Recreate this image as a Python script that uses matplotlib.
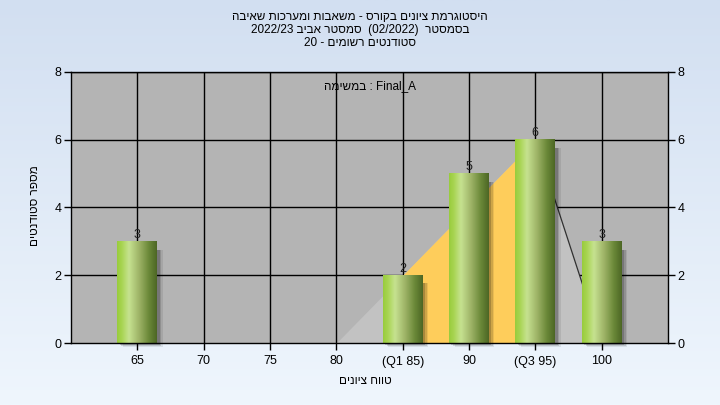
import numpy as np
import matplotlib
matplotlib.use("Agg")
import matplotlib.pyplot as plt
from matplotlib.colors import LinearSegmentedColormap

# ---- data ----
# Hebrew strings are given in logical order; matplotlib has no bidi support,
# so they are converted to visual (left-to-right) order before drawing.
title_1 = "היסטוגרמת ציונים בקורס - משאבות ומערכות שאיבה"
title_2_parts = ["2022/23 ", "סמסטר אביב", "  (02/2022)  ", "בסמסטר"]
title_3_parts = ["20 - ", "סטודנטים רשומים"]
task_parts = ["במשימה", " : Final_A"]
x_label = "טווח ציונים"
y_label = "מספר סטודנטים"
tick_values = [65, 70, 75, 80, 85, 90, 95, 100]
tick_labels = ["65", "70", "75", "80", "(Q1 85)", "90", "(Q3 95)", "100"]
bar_x = [65, 85, 90, 95, 100]
bar_counts = [3, 2, 5, 6, 3]
# distribution triangle (min, Q1, Q3/peak, max)
dist_x = [80, 85, 95, 100]
dist_y = [0, 2, 6, 0]
q1, q3 = 85, 95


def heb(s):
    """reverse a pure-Hebrew run into visual order"""
    return s[::-1]


def is_heb(s):
    return any('\u0590' <= c <= '\u05ff' for c in s)


def visual(parts):
    return "".join(heb(p) if is_heb(p) else p for p in parts)


title_lines = [heb(title_1), visual(title_2_parts), visual(title_3_parts)]
task_label = visual(task_parts)

plt.rcParams['font.family'] = ['Liberation Sans', 'DejaVu Sans']

fig = plt.figure(figsize=(7.2, 4.05), dpi=100)
# figure background gradient
bg = fig.add_axes([0, 0, 1, 1], zorder=-10)
grad = np.linspace(0, 1, 256).reshape(-1, 1)
bgcmap = LinearSegmentedColormap.from_list("bg", ["#d2dff1", "#eff6fd"])
bg.imshow(grad, aspect='auto', cmap=bgcmap, extent=(0, 1, 0, 1), origin='upper')
bg.axis('off')

ax = fig.add_axes([71/720, 1 - 343/405, (668-71)/720, (343-72)/405])
ax.set_xlim(60, 105)
ax.set_ylim(0, 8)
ax.set_facecolor("#b4b4b4")

# grid
for t in tick_values:
    ax.axvline(t, color='black', lw=1, zorder=1)
for v in [2, 4, 6, 8]:
    ax.axhline(v, color='black', lw=1, zorder=1)

# distribution areas
xs = np.array(dist_x, dtype=float)
ys = np.array(dist_y, dtype=float)
xx = np.linspace(xs[0], xs[-1], 500)
yy = np.interp(xx, xs, ys)
ax.fill_between(xx, 0, yy, color="#c2c2c2", lw=0, zorder=2)
m = (xx >= q1) & (xx <= q3)
ax.fill_between(xx[m], 0, yy[m], color="#fecd5b", lw=0, zorder=2.1)
ax.plot(dist_x[2:], dist_y[2:], color="#303030", lw=0.9, zorder=2.2)

# bars with gradient
width = 3.0
bars = ax.bar(bar_x, bar_counts, width=width, color='none', zorder=4)
barcmap = LinearSegmentedColormap.from_list(
    "bar", [(0, "#98cc3c"), (0.12, "#a8d452"), (0.3, "#c6e290"),
            (0.55, "#9fb468"), (0.8, "#6a8838"), (1, "#4c6624")])
hgrad = np.linspace(0, 1, 256).reshape(1, -1)
for b in bars:
    x0, w, h = b.get_x(), b.get_width(), b.get_height()
    # soft shadow
    for k, a in enumerate([0.08, 0.12, 0.18]):
        off = 0.42 - k * 0.12
        ax.add_patch(plt.Rectangle((x0 + off, -0.12 + k * 0.03), w, h - 0.12 - k * 0.03,
                                   color='black', alpha=a, lw=0, zorder=3, clip_on=False))
    ax.imshow(hgrad, aspect='auto', cmap=barcmap, extent=(x0, x0 + w, 0, h),
              zorder=4, interpolation='bilinear')
    ax.text(x0 + w / 2, h + 0.02, str(int(h)), ha='center', va='bottom', fontsize=9,
            color='#202020', zorder=6)
ax.set_xlim(60, 105)
ax.set_ylim(0, 8)

for s in ax.spines.values():
    s.set_color('black')
    s.set_linewidth(1)
    s.set_zorder(7)

ax.set_xticks(tick_values)
ax.set_xticklabels(tick_labels)
ax.set_yticks([0, 2, 4, 6, 8])
ax.tick_params(axis='both', direction='out', length=5, width=1, labelsize=9,
               colors='black')
ax.tick_params(axis='y', right=True, labelright=True, pad=2)
ax.tick_params(axis='x', pad=4)

ax.text(0.5, 0.948, task_label, transform=ax.transAxes, ha='center', va='center',
        fontsize=8.5, color='black', zorder=8)

fig.text(365/720, 1 - 381/405, heb(x_label), ha='center', va='center', fontsize=8.5)
fig.text(35/720, 1 - 206/405, heb(y_label), rotation=90, ha='center', va='center',
         fontsize=8.5)

for i, line in enumerate(title_lines):
    fig.text(0.5, 1 - (17 + 13 * i) / 405, line, ha='center', va='center', fontsize=8.5)

fig.savefig("out.png", dpi=100)
